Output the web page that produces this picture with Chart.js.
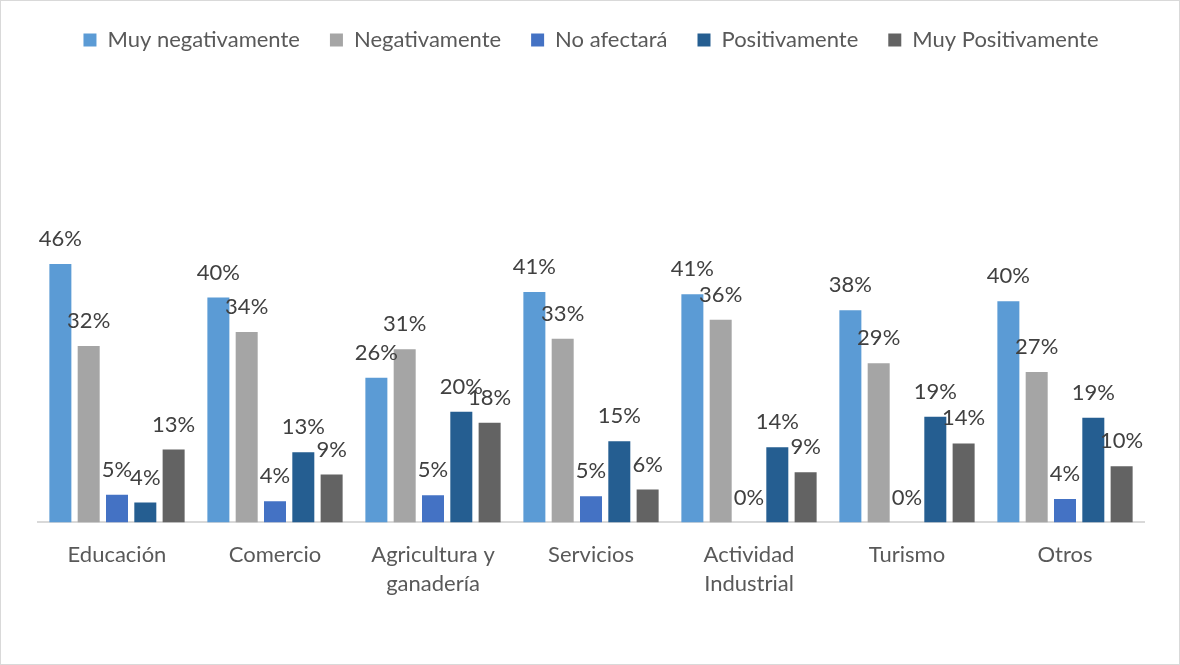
<!DOCTYPE html>
<html>
<head>
<meta charset="utf-8">
<script src="https://cdn.jsdelivr.net/npm/chart.js@4/dist/chart.umd.min.js"></script>
<style>
  html, body { margin: 0; padding: 0; background: #fff; }
  #wrap { width: 1178px; height: 663px; border: 1px solid #d9d9d9; position: relative; }
</style>
</head>
<body>
<div id="wrap"><canvas id="chart"></canvas></div>
<script>
// categories (multi-line ones as arrays)
const categories = ['Educación', 'Comercio', ['Agricultura y', 'ganadería'], 'Servicios', ['Actividad', 'Industrial'], 'Turismo', 'Otros'];

// series values, in percent
const muyNegativamente = [46.4, 40.4, 26.0, 41.4, 41.0, 38.1, 39.7];
const negativamente    = [31.7, 34.2, 31.1, 33.0, 36.4, 28.6, 27.0];
const noAfectara       = [5.0, 3.8, 4.9, 4.7, 0, 0, 4.2];
const positivamente    = [3.6, 12.6, 19.9, 14.6, 13.5, 19.0, 18.8];
const muyPositivamente = [13.1, 8.6, 17.9, 5.9, 9.0, 14.2, 10.1];

const seriesNames = ['Muy negativamente', 'Negativamente', 'No afectará', 'Positivamente', 'Muy Positivamente'];
const seriesColors = ['#5b9bd5', '#a5a5a5', '#4472c4', '#255e91', '#636363'];
const seriesData = [muyNegativamente, negativamente, noAfectara, positivamente, muyPositivamente];

const FONT = 'Lato';
const PLOT_TOP = 243; // where the plot area starts, below the legend

// labels above every bar, like the Excel data labels
const barLabels = {
  id: 'barLabels',
  afterDatasetsDraw(chart) {
    const ctx = chart.ctx;
    ctx.save();
    ctx.font = '22px ' + FONT;
    ctx.fillStyle = '#404040';
    ctx.textAlign = 'center';
    ctx.textBaseline = 'middle';
    chart.data.datasets.forEach((ds, i) => {
      chart.getDatasetMeta(i).data.forEach((bar, j) => {
        ctx.fillText(Math.round(ds.data[j]) + '%', bar.x, bar.y - 25);
      });
    });
    ctx.restore();
  }
};

// leave the empty band between legend and plot area
const legendGap = {
  id: 'legendGap',
  beforeInit(chart) {
    const fit = chart.legend.fit;
    chart.legend.fit = function () {
      fit.call(this);
      this.height = PLOT_TOP - chart.options.layout.padding.top;
    };
  }
};

new Chart(document.getElementById('chart'), {
  type: 'bar',
  data: {
    labels: categories,
    datasets: seriesNames.map((name, i) => ({
      label: name,
      data: seriesData[i],
      backgroundColor: seriesColors[i],
      borderWidth: 0,
      categoryPercentage: 0.896,
      barPercentage: 0.777
    }))
  },
  options: {
    responsive: true,
    maintainAspectRatio: false,
    animation: false,
    layout: { padding: { left: 37, right: 35, top: -2, bottom: 55 } },
    plugins: {
      legend: {
        position: 'top',
        labels: {
          boxWidth: 13,
          boxHeight: 13,
          padding: 30,
          color: '#595959',
          font: { family: FONT, size: 22 }
        }
      },
      tooltip: { enabled: false }
    },
    scales: {
      x: {
        grid: { display: false },
        border: { display: true, color: '#d9d9d9', width: 2 },
        ticks: {
          color: '#595959',
          padding: 10,
          maxRotation: 0,
          autoSkip: false,
          font: { family: FONT, size: 22, lineHeight: 1.33 }
        }
      },
      y: {
        display: false,
        min: 0,
        max: 50
      }
    }
  },
  plugins: [barLabels, legendGap]
});
</script>
</body>
</html>
